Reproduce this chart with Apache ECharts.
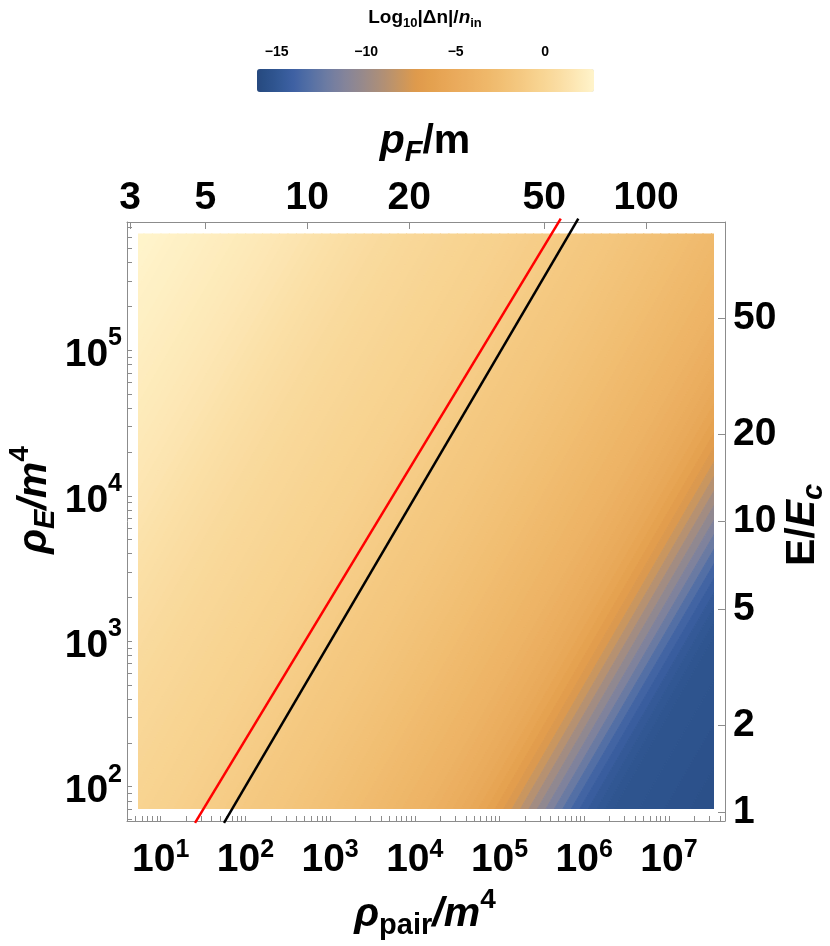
<!DOCTYPE html>
<html>
<head>
<meta charset="utf-8">
<script src="https://cdn.jsdelivr.net/npm/echarts@6/dist/echarts.min.js"></script>
<style>
  html, body { margin: 0; padding: 0; background: #fff; }
  #main { width: 830px; height: 946px; }
</style>
</head>
<body>
<div id="main"></div>
<script>
// everything is in log10 units
var rhoPairRange = [0.602, 7.662];   // bottom axis, log10(rho_pair/m^4)
var rhoERange = [1.764, 5.882];      // left axis, log10(rho_E/m^4)
var fieldX = [0.7355, 7.524];        // extent of the density plot
var fieldY = [1.8475, 5.802];
var pFShift = 1.2692;                // log10 rho_pair = 4 log10 pF - pFShift
var eCritRho = 1.8234;               // log10 rho_E at E = E_c

// The density changes across the diagonal, so it is read off in diagonal strips:
// u = log rho_pair - log rho_E, strips run along t = log rho_pair + log rho_E
var stripEdges = [-5.1, -5.0, -4.9, -4.8, -4.7, -4.6, -4.5, -4.4, -4.3, -4.2, -4.1, -4.0,
  -3.9, -3.8, -3.7, -3.6, -3.5, -3.4, -3.3, -3.2, -3.1, -3.0, -2.9, -2.8, -2.7, -2.6, -2.5,
  -2.4, -2.3, -2.2, -2.1, -2.0, -1.9, -1.8, -1.7, -1.6, -1.5, -1.4, -1.3, -1.2, -1.1, -1.0,
  -0.9, -0.8, -0.7, -0.6, -0.5, -0.4, -0.3, -0.2, -0.1, 0.0, 0.1, 0.2, 0.3, 0.4, 0.5, 0.6,
  0.7, 0.8, 0.9, 1.0, 1.1, 1.2, 1.3, 1.4, 1.5, 1.6, 1.7, 1.8, 1.9, 2.0, 2.1, 2.2, 2.3, 2.4,
  2.5, 2.6, 2.7, 2.8, 2.9, 3.0, 3.1, 3.2, 3.3, 3.4, 3.5, 3.6, 3.7, 3.8, 3.9, 4.0, 4.1, 4.2,
  4.3, 4.4, 4.5, 4.8, 5.1, 5.4, 5.7];
var stripSpan = [2.5, 13.4];
// Log10|dn|/n_in in each strip, from the top-left corner to the bottom-right corner
var stripValues = [
  2.72, 2.70, 2.67, 2.59, 2.51, 2.44, 2.39, 2.31, 2.24, 2.17, 2.11, 2.03,
  1.95, 1.89, 1.83, 1.75, 1.68, 1.59, 1.51, 1.42, 1.31, 1.20, 1.09, 1.00,
  0.92, 0.83, 0.76, 0.66, 0.55, 0.45, 0.37, 0.28, 0.21, 0.14, 0.08, 0.00,
  -0.08, -0.16, -0.22, -0.29, -0.36, -0.43, -0.48, -0.54, -0.61, -0.70, -0.80, -0.89,
  -0.96, -1.05, -1.15, -1.25, -1.35, -1.44, -1.51, -1.60, -1.70, -1.80, -1.90, -2.00,
  -2.10, -2.21, -2.34, -2.46, -2.59, -2.71, -2.84, -2.96, -3.09, -3.22, -3.39, -3.55,
  -3.70, -3.88, -4.08, -4.30, -4.55, -4.80, -5.10, -5.40, -5.80, -6.25, -6.75, -7.35,
  -8.05, -8.85, -9.70, -10.55, -11.40, -12.30, -13.20, -13.90, -14.40, -14.75, -14.95, -15.10,
  -15.20, -15.30, -15.40, -15.50
];

// the two straight lines, [log10 rho_pair, log10 rho_E]
var redLine = [[1.405, 1.751], [5.723, 5.905]];
var blackLine = [[1.747, 1.751], [5.930, 5.905]];

// tick labels
var bottomExponents = [1, 2, 3, 4, 5, 6, 7];
var leftExponents = [2, 3, 4, 5];
var topPF = [3, 5, 10, 20, 50, 100];
var rightE = [1, 2, 5, 10, 20, 50];
var colorbarTicks = [-15, -10, -5, 0];
var colorRange = [-16.1, 2.73];

var colormap = ['#26497f', '#2f5590', '#3d60a3', '#5570a5', '#6e7ca2', '#85849a', '#988a8a',
  '#ae8f78', '#c69562', '#df9a4b', '#e5a250', '#e9a95a', '#ecb062', '#efb86a', '#f2c176',
  '#f5ca83', '#f8d492', '#fadda2', '#fde8b6', '#fff4cb'];

var FONT = '"Liberation Sans", Arial, sans-serif';
var GRAY = '#8c8c8c';

function logTicks(range) {
  var out = [];
  for (var n = Math.floor(range[0]); n <= Math.ceil(range[1]); n++) {
    for (var m = 1; m < 10; m++) {
      var v = n + Math.log10(m);
      if (v >= range[0] && v <= range[1]) out.push(v);
    }
  }
  return out;
}
function log10List(list) { return list.map(function (v) { return Math.log10(v); }); }

var pFRange = [(rhoPairRange[0] + pFShift) / 4, (rhoPairRange[1] + pFShift) / 4];
var eRange = [(rhoERange[0] - eCritRho) / 2, (rhoERange[1] - eCritRho) / 2];

var strips = stripValues.map(function (v, i) {
  return [stripEdges[i], stripEdges[i + 1], stripSpan[0], stripSpan[1], v];
});

var powRich = {
  b: { fontSize: 39, fontWeight: 'bold', fontFamily: FONT, color: '#000', verticalAlign: 'bottom' },
  s: { fontSize: 25, fontWeight: 'bold', fontFamily: FONT, color: '#000', verticalAlign: 'bottom', padding: [0, 0, 17, 0] }
};
var powRichLeft = {
  b: { fontSize: 39, fontWeight: 'bold', fontFamily: FONT, color: '#000', verticalAlign: 'bottom' },
  s: { fontSize: 25, fontWeight: 'bold', fontFamily: FONT, color: '#000', verticalAlign: 'bottom', padding: [0, 0, 24, 0] }
};
function powLabel(v) { return '{b|10}{s|' + Math.round(v) + '}'; }

function frameAxis(extra) {
  var base = {
    type: 'value',
    axisLine: { show: true, onZero: false, lineStyle: { color: GRAY, width: 1 } },
    axisTick: { show: true, inside: true, length: 5, lineStyle: { color: GRAY, width: 1 } },
    splitLine: { show: false },
    axisLabel: { fontFamily: FONT, fontWeight: 'bold', fontSize: 39, color: '#000' }
  };
  for (var k in extra) {
    if (typeof extra[k] === 'object' && base[k] && !Array.isArray(extra[k])) {
      for (var kk in extra[k]) base[k][kk] = extra[k][kk];
    } else base[k] = extra[k];
  }
  return base;
}

var titleRich = {
  i: { fontSize: 41, fontWeight: 'bold', fontStyle: 'italic', fontFamily: FONT, fill: '#000', verticalAlign: 'bottom', padding: [0, 0, 5, 0] },
  r: { fontSize: 41, fontWeight: 'bold', fontFamily: FONT, fill: '#000', verticalAlign: 'bottom', padding: [0, 0, 5, 0] },
  si: { fontSize: 29, fontWeight: 'bold', fontStyle: 'italic', fontFamily: FONT, fill: '#000', verticalAlign: 'bottom' },
  sr: { fontSize: 29, fontWeight: 'bold', fontFamily: FONT, fill: '#000', verticalAlign: 'bottom' },
  sup: { fontSize: 28, fontWeight: 'bold', fontFamily: FONT, fill: '#000', verticalAlign: 'bottom', padding: [0, 0, 26, 0] }
};
var cbRich = {
  r: { fontSize: 19, fontWeight: 'bold', fontFamily: FONT, fill: '#000', verticalAlign: 'bottom', padding: [0, 0, 3, 0] },
  i: { fontSize: 19, fontWeight: 'bold', fontStyle: 'italic', fontFamily: FONT, fill: '#000', verticalAlign: 'bottom', padding: [0, 0, 3, 0] },
  s: { fontSize: 13, fontWeight: 'bold', fontFamily: FONT, fill: '#000', verticalAlign: 'bottom' }
};

var chart = echarts.init(document.getElementById('main'), null, { renderer: 'canvas' });

var option = {
  animation: false,
  backgroundColor: '#fff',
  grid: [
    { left: 127, top: 222, width: 598, height: 599 },
    { left: 257, top: 69, width: 337, height: 23 },
    { left: 138.3, top: 233.6, width: 575.0, height: 575.3 }
  ],
  visualMap: {
    type: 'continuous',
    orient: 'horizontal',
    left: 257, top: 69,
    itemWidth: 23, itemHeight: 337,
    padding: 0,
    min: colorRange[0], max: colorRange[1],
    calculable: false, hoverLink: false,
    seriesIndex: 0, dimension: 4,
    inRange: { color: colormap }
  },
  xAxis: [
    frameAxis({
      gridIndex: 0, position: 'bottom', min: rhoPairRange[0], max: rhoPairRange[1],
      axisTick: { customValues: logTicks(rhoPairRange) },
      axisLabel: { customValues: bottomExponents, margin: 17, formatter: powLabel, rich: powRich }
    }),
    frameAxis({
      gridIndex: 0, position: 'top', min: pFRange[0], max: pFRange[1],
      axisTick: { customValues: log10List(topPF), length: 7 },
      axisLabel: { customValues: log10List(topPF), margin: 4,
        formatter: function (v) { return String(Math.round(Math.pow(10, v))); } }
    }),
    {
      type: 'value', gridIndex: 1, position: 'top', min: colorRange[0], max: colorRange[1],
      axisLine: { show: false },
      splitLine: { show: false },
      axisTick: { show: true, length: 4, customValues: [-16, -15, -14, -13, -12, -11, -10, -9, -8, -7, -6, -5, -4, -3, -2, -1, 0, 1, 2],
        lineStyle: { color: '#aaa' } },
      axisLabel: { customValues: colorbarTicks, margin: 10, fontFamily: FONT, fontWeight: 'bold', fontSize: 14, color: '#000',
        formatter: function (v) { return v < 0 ? '\u2212' + Math.abs(v) : String(v); } }
    },
    { type: 'value', gridIndex: 2, show: false, min: fieldX[0], max: fieldX[1] }
  ],
  yAxis: [
    frameAxis({
      gridIndex: 0, position: 'left', min: rhoERange[0], max: rhoERange[1],
      axisTick: { customValues: logTicks(rhoERange) },
      axisLabel: { customValues: leftExponents, margin: 5, formatter: powLabel, rich: powRichLeft }
    }),
    frameAxis({
      gridIndex: 0, position: 'right', min: eRange[0], max: eRange[1],
      axisTick: { customValues: log10List(rightE), length: 7 },
      axisLabel: { customValues: log10List(rightE), margin: 8,
        formatter: function (v) { return String(Math.round(Math.pow(10, v))); } }
    }),
    { type: 'value', gridIndex: 1, show: false, min: 0, max: 1 },
    { type: 'value', gridIndex: 2, show: false, min: fieldY[0], max: fieldY[1] }
  ],
  series: [
    {
      type: 'custom',
      xAxisIndex: 3, yAxisIndex: 3,
      data: strips,
      clip: true,
      silent: true,
      renderItem: function (params, api) {
        var u0 = api.value(0), u1 = api.value(1), t0 = api.value(2), t1 = api.value(3);
        var pts = [[u0, t0], [u1, t0], [u1, t1], [u0, t1]].map(function (q) {
          return api.coord([(q[1] + q[0]) / 2, (q[1] - q[0]) / 2]);
        });
        var col = api.visual('color');
        return {
          type: 'polygon',
          shape: { points: pts },
          style: { fill: col, stroke: col, lineWidth: 1, lineJoin: 'round' }
        };
      }
    },
    {
      type: 'line', xAxisIndex: 0, yAxisIndex: 0, data: redLine,
      symbol: 'none', clip: false, silent: true, z: 5,
      lineStyle: { color: '#ff0000', width: 2.5 }
    },
    {
      type: 'line', xAxisIndex: 0, yAxisIndex: 0, data: blackLine,
      symbol: 'none', clip: false, silent: true, z: 5,
      lineStyle: { color: '#000', width: 2.5 }
    }
  ],
  graphic: [
    { type: 'text', x: 425, y: 19, style: { text: '{r|Log}{s|10}{r||\u0394n|/}{i|n}{s|in}', rich: cbRich, align: 'center', verticalAlign: 'middle' } },
    { type: 'text', x: 425, y: 144, style: { text: '{i|p}{si|F}{r|/m}', rich: titleRich, align: 'center', verticalAlign: 'middle' } },
    { type: 'text', x: 425, y: 913, style: { text: '{i|\u03c1}{sr|pair}{i|/m}{sup|4}', rich: titleRich, align: 'center', verticalAlign: 'middle' } },
    { type: 'text', x: 33, y: 500, rotation: Math.PI / 2, style: { text: '{i|\u03c1}{si|E}{i|/m}{sup|4}', rich: titleRich, align: 'center', verticalAlign: 'middle' } },
    { type: 'text', x: 805, y: 525, rotation: Math.PI / 2, style: { text: '{r|E/}{i|E}{si|c}', rich: titleRich, align: 'center', verticalAlign: 'middle' } }
  ]
};

chart.setOption(option);
</script>
</body>
</html>
